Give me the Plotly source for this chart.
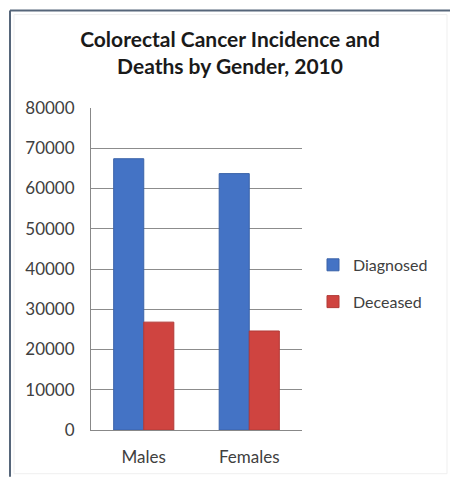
import plotly.graph_objects as go

# Colorectal cancer incidence and deaths by gender, 2010
categories = ["Males", "Females"]
diagnosed = [67400, 63700]
deceased = [26800, 24600]
y_ticks = [0, 10000, 20000, 30000, 40000, 50000, 60000, 70000, 80000]

W, H = 450, 479
L, R, T, B = 91, 148, 108, 47

FONT = "Lato, 'Open Sans', sans-serif"
TXT = "#404040"

fig = go.Figure()
fig.add_trace(go.Bar(
    name="Diagnosed", x=categories, y=diagnosed, legendgroup="a",
    marker=dict(color="#4473C5", line=dict(color="#3A63A8", width=1)),
))
fig.add_trace(go.Bar(
    name="Deceased", x=categories, y=deceased, legendgroup="b",
    marker=dict(color="#CF4440", line=dict(color="#B23A37", width=1)),
))


def px_x(px):
    return (px - L) / (W - L - R)


def px_y(py):
    return (H - B - py) / (H - T - B)


# outer chart frame
frame = []
frame.append(dict(type="line", xref="paper", yref="paper",
                  x0=px_x(10), x1=px_x(10), y0=px_y(10), y1=px_y(479),
                  line=dict(color="#56667a", width=2)))
frame.append(dict(type="line", xref="paper", yref="paper",
                  x0=px_x(10), x1=px_x(450), y0=px_y(10), y1=px_y(10),
                  line=dict(color="#56667a", width=2)))
frame.append(dict(type="rect", xref="paper", yref="paper",
                  x0=px_x(14), x1=px_x(447), y0=px_y(14), y1=px_y(476),
                  line=dict(color="#efefef", width=1)))

fig.update_layout(
    width=W, height=H,
    margin=dict(l=L, r=R, t=T, b=B),
    paper_bgcolor="white", plot_bgcolor="white",
    barmode="group", bargap=0.43, bargroupgap=0,
    font=dict(family=FONT, size=17, color=TXT),
    title=dict(
        text="<b>Colorectal Cancer Incidence and<br>Deaths by Gender, 2010</b>",
        x=230 / W, xanchor="center", y=1 - 47 / H, yanchor="middle",
        font=dict(family=FONT, size=21, color="#1a1a1a"),
    ),
    xaxis=dict(
        showline=True, linecolor="#888888", linewidth=1,
        ticks="", showgrid=False, tickfont=dict(size=17, color=TXT),
        ticklabelstandoff=12,
    ),
    yaxis=dict(
        range=[0, 80000], tickvals=y_ticks, ticktext=[str(v) for v in y_ticks],
        showline=True, linecolor="#888888", linewidth=1,
        showgrid=True, gridcolor="#8c8c8c", gridwidth=1,
        ticks="", tickfont=dict(size=17, color=TXT), zeroline=False,
        ticklabelstandoff=12,
    ),
    legend=dict(
        x=px_x(313), xanchor="left", y=px_y(284.5), yanchor="middle",
        traceorder="grouped", tracegroupgap=13,
        font=dict(size=16, color=TXT), bgcolor="rgba(0,0,0,0)",
    ),
    shapes=frame,
)

fig.write_html("out.html")
